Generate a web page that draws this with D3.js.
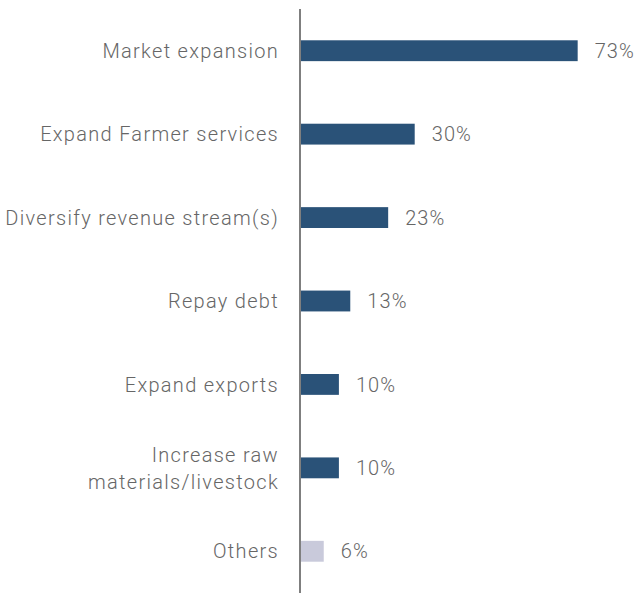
<!DOCTYPE html>
<html>
<head>
<meta charset="utf-8">
<script src="https://cdn.jsdelivr.net/npm/d3@7"></script>
<style>
  body { margin: 0; background: #fff; }
  svg text { font-family: Roboto, "Open Sans", sans-serif; font-weight: 300; }
</style>
</head>
<body>
<svg id="chart" width="636" height="593"></svg>
<script>
// Uses of funds, share of respondents
const categories = [
  ["Market expansion"],
  ["Expand Farmer services"],
  ["Diversify revenue stream(s)"],
  ["Repay debt"],
  ["Expand exports"],
  ["Increase raw", "materials/livestock"],
  ["Others"]
];
const values = [73, 30, 23, 13, 10, 10, 6];
const valueLabels = ["73%", "30%", "23%", "13%", "10%", "10%", "6%"];
const barColors = ["#2a5278", "#2a5278", "#2a5278", "#2a5278", "#2a5278", "#2a5278", "#c9cadb"];

const svg = d3.select("#chart");
const axisX = 300;

const x = d3.scaleLinear().domain([0, 100]).range([axisX, axisX + 379]);
const y = d3.scaleBand().domain(d3.range(values.length)).range([9, 593]).paddingInner(0.75).paddingOuter(0.375);

const rows = svg.selectAll("g.row").data(values).join("g").attr("class", "row");

rows.append("rect")
  .attr("x", x(0) + 1)
  .attr("y", (d, i) => y(i))
  .attr("width", d => x(d) - x(0))
  .attr("height", y.bandwidth())
  .attr("fill", (d, i) => barColors[i]);

rows.append("text")
  .attr("x", d => x(d) + 18)
  .attr("y", (d, i) => y(i) + y.bandwidth() / 2)
  .attr("dy", "0.36em")
  .attr("font-size", 20)
  .attr("letter-spacing", 1.1)
  .attr("fill", "#666")
  .text((d, i) => valueLabels[i]);

const labels = svg.selectAll("text.cat").data(categories).join("text")
  .attr("class", "cat")
  .attr("text-anchor", "end")
  .attr("font-size", 20)
  .attr("letter-spacing", 1.3)
  .attr("fill", "#666")
  .attr("transform", (d, i) => `translate(279,${y(i) + y.bandwidth() / 2})`);

labels.each(function(lines) {
  const t = d3.select(this);
  const n = lines.length;
  lines.forEach((line, k) => {
    t.append("tspan")
      .attr("x", 0)
      .attr("y", (k - (n - 1) / 2) * 27)
      .attr("dy", "0.36em")
      .text(line);
  });
});

// vertical category axis
svg.append("line")
  .attr("x1", axisX).attr("x2", axisX)
  .attr("y1", 9).attr("y2", 593)
  .attr("stroke", "#7f7f7f")
  .attr("stroke-width", 2);
</script>
</body>
</html>
